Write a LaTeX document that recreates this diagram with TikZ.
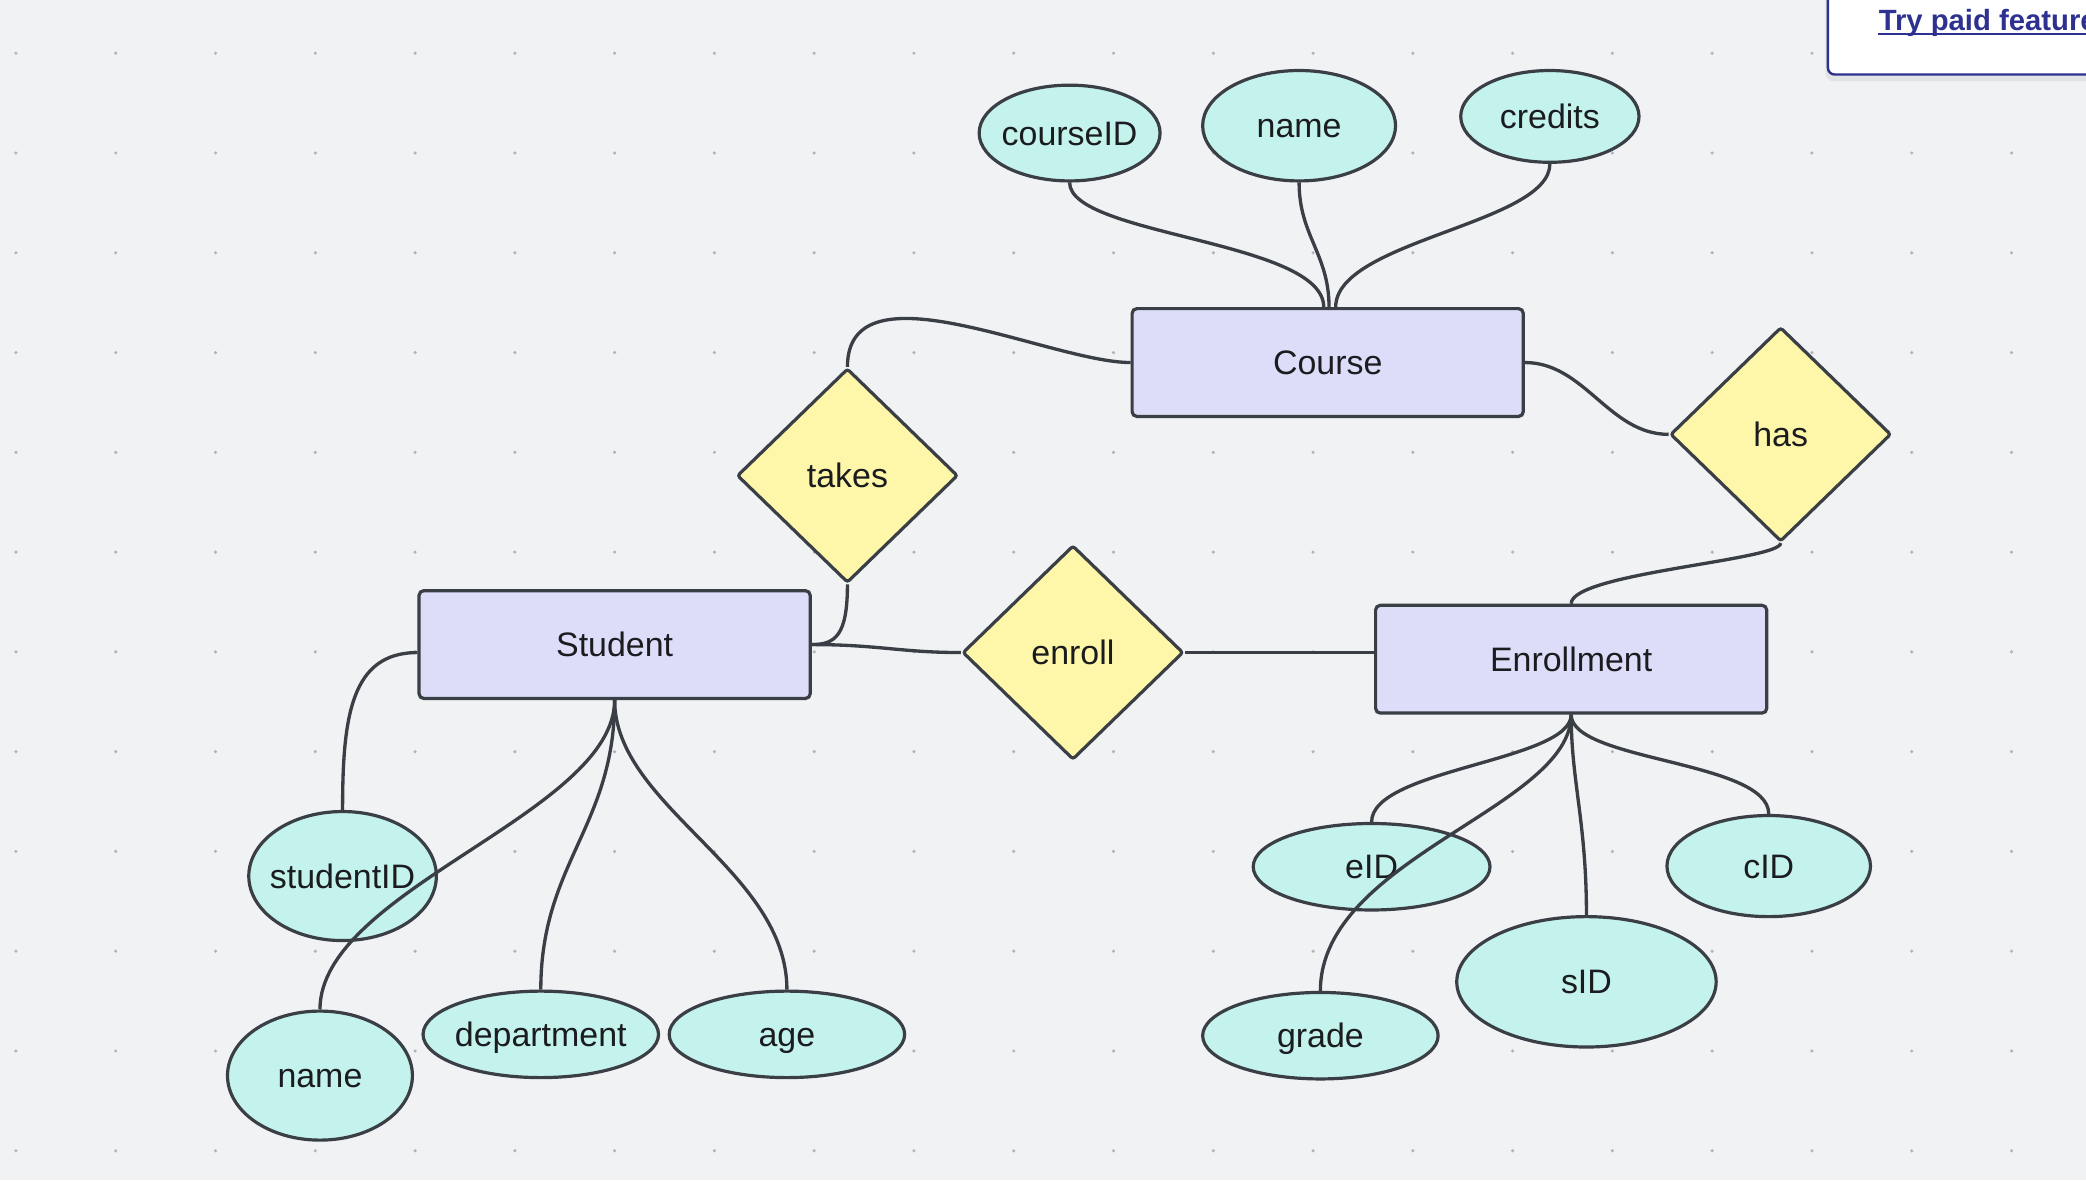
\documentclass[tikz,border=0pt]{standalone}
\usepackage{fontspec}
\setmainfont{Liberation Sans}
\usetikzlibrary{shapes.geometric,calc}
\definecolor{bg}{HTML}{F1F2F4}
\definecolor{dotc}{HTML}{B0B3B8}
\definecolor{edgec}{HTML}{3A3E45}
\definecolor{entfill}{HTML}{DDDDFA}
\definecolor{relfill}{HTML}{FEF7AA}
\definecolor{attfill}{HTML}{C4F2EC}
\definecolor{linkblue}{HTML}{2E3190}
\definecolor{txt}{HTML}{1B1C1F}
\newcommand\dfont{\fontsize{25.5}{30}\selectfont}
\newcommand\bfontx{\fontsize{22}{26}\selectfont\bfseries}
\begin{document}
\begin{tikzpicture}[x=1pt,y=-1pt,
  entity/.style={draw=edgec, fill=entfill, line width=2.4pt, rounded corners=3.5pt,
    minimum width=294pt, minimum height=81pt, inner sep=0pt, font=\dfont, text=txt,
    text height=18.3pt, text depth=0pt},
  rel/.style={diamond, draw=edgec, fill=relfill, line width=2.4pt, rounded corners=2pt,
    minimum width=166pt, minimum height=161pt, inner sep=0pt, font=\dfont, text=txt,
    text height=18.3pt, text depth=0pt},
  attr/.style={ellipse, draw=edgec, fill=attfill, line width=2.4pt, inner sep=0pt},
  lab/.style={font=\dfont, text=txt, inner sep=0pt, text height=18.3pt, text depth=0pt},
  conn/.style={draw=edgec, line width=2.5pt}]
\fill[bg] (0,0) rectangle (1568,887);
\useasboundingbox (0,0) rectangle (1568,887);
\foreach \i in {0,...,20}{
  \foreach \j in {0,...,11}{
    \fill[dotc] (12+75*\i, 40+75*\j) circle (1.3pt);
  }
}
% entities
\node[entity] (course) at (998,272.5) {Course};
\node[entity] (student) at (462,484.5) {Student};
\node[entity] (enr) at (1181,495.5) {Enrollment};
% relationships
\node[rel] (takes) at (637,357.5) {takes};
\node[rel] (has) at (1338.5,326.5) {has};
\node[rel] (enroll) at (806.5,490.5) {enroll};
% attributes
\node[attr, minimum width=136pt, minimum height=72pt, label={[lab]center:courseID}] (cid) at (804,100) {};
\node[attr, minimum width=145pt, minimum height=83pt, label={[lab]center:name}] (cname) at (976.5,94.5) {};
\node[attr, minimum width=134pt, minimum height=69pt, label={[lab]center:credits}] (credits) at (1165,87.5) {};
\node[attr, minimum width=141pt, minimum height=97pt, label={[lab]center:studentID}] (sid) at (257.5,658.5) {};
\node[attr, minimum width=139pt, minimum height=97pt, label={[lab]center:name}] (sname) at (240.5,808.5) {};
\node[attr, minimum width=177pt, minimum height=65pt, label={[lab]center:department}] (dept) at (406.5,777.5) {};
\node[attr, minimum width=177pt, minimum height=65pt, label={[lab]center:age}] (age) at (591.5,777.5) {};
\node[attr, minimum width=178pt, minimum height=65pt, label={[lab]center:eID}] (eid) at (1031,651.5) {};
\node[attr, minimum width=177pt, minimum height=65pt, label={[lab]center:grade}] (grade) at (992.5,778.5) {};
\node[attr, minimum width=195pt, minimum height=98pt, label={[lab]center:sID}] (sidd) at (1192.5,738) {};
\node[attr, minimum width=153pt, minimum height=76pt, label={[lab]center:cID}] (cidd) at (1329.5,651) {};
% connectors
\draw[conn] (cid.south) .. controls +(0,40) and +(0,-50) .. ($(course.north)+(-3,0)$);
\draw[conn] (cname.south) .. controls +(0,40) and +(0,-40) .. ($(course.north)+(1,0)$);
\draw[conn] (credits.south) .. controls +(0,45) and +(0,-50) .. ($(course.north)+(6,0)$);
\draw[conn] (takes.north) .. controls +(0,-80) and +(-60,0) .. (course.west);
\draw[conn] (takes.south) .. controls +(0,38) and +(18,0) .. (student.east);
\draw[conn] (student.east) .. controls +(50,0) and +(-45,0) .. (enroll.west);
\draw[conn] (enroll.east) -- (enroll.east -| enr.west);
\draw[conn] (course.east) .. controls +(45,0) and +(-45,0) .. (has.west);
\draw[conn] (has.south) .. controls +(0,13) and +(0,-23) .. (enr.north);
\draw[conn] ($(student.west)+(0,6)$) .. controls +(-50,0) and +(0,-70) .. (sid.north);
\draw[conn] (student.south) .. controls +(0,85) and +(0,-90) .. (sname.north);
\draw[conn] (student.south) .. controls +(0,95) and +(0,-95) .. (dept.north);
\draw[conn] (student.south) .. controls +(0,80) and +(0,-90) .. (age.north);
\draw[conn] (enr.south) .. controls +(0,35) and +(0,-40) .. (eid.north);
\draw[conn] (enr.south) .. controls +(0,70) and +(0,-100) .. (grade.north);
\draw[conn] (enr.south) .. controls +(0,50) and +(0,-70) .. (sidd.north);
\draw[conn] (enr.south) .. controls +(0,35) and +(0,-40) .. (cidd.north);
% top-right banner (cut off at the picture's edge, as in the reference)
\begin{scope}
\clip (0,0) rectangle (1568,887);
\fill[black, opacity=0.06, rounded corners=6pt] (1372,-10) rectangle (1600,61);
\draw[linkblue, line width=1.8pt, fill=white, rounded corners=5pt] (1374,-10) rectangle (1600,56);
\node[anchor=base west, font=\bfontx, text=linkblue, inner sep=0pt] (paid) at (1412,23) {Try paid features};
\draw[linkblue, line width=1.6pt] ([yshift=-2.5pt]paid.base west) -- ([yshift=-2.5pt]paid.base east);
\end{scope}
\end{tikzpicture}
\end{document}
